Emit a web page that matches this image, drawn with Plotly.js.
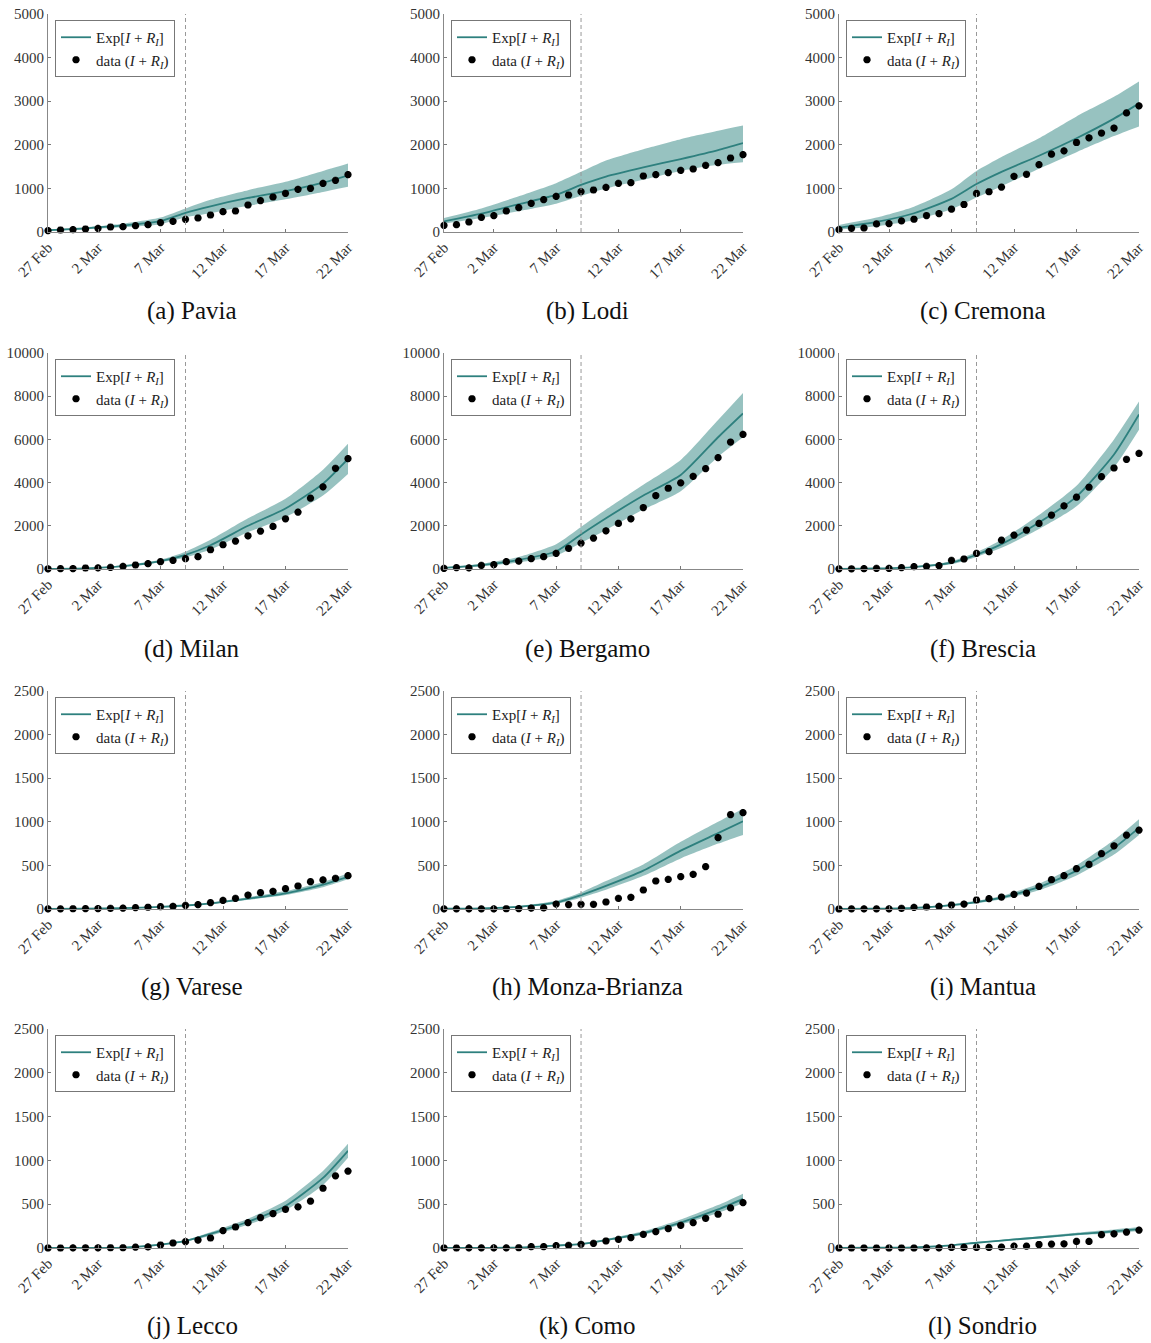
<!DOCTYPE html>
<html>
<head>
<meta charset="utf-8">
<script src="https://cdn.plot.ly/plotly-3.0.1.min.js"></script>
<style>
  html, body { margin: 0; padding: 0; background: #fff; }
  #chart { width: 1151px; height: 1343px; }
</style>
</head>
<body>
<div id="chart"></div>
<script>
// ---------- categories ----------
const dates = ['2020-02-27','2020-02-28','2020-02-29','2020-03-01','2020-03-02','2020-03-03','2020-03-04',
  '2020-03-05','2020-03-06','2020-03-07','2020-03-08','2020-03-09','2020-03-10','2020-03-11','2020-03-12',
  '2020-03-13','2020-03-14','2020-03-15','2020-03-16','2020-03-17','2020-03-18','2020-03-19','2020-03-20',
  '2020-03-21','2020-03-22'];
const modelDates = ['2020-02-27','2020-03-01','2020-03-04','2020-03-07','2020-03-09','2020-03-11',
  '2020-03-14','2020-03-17','2020-03-20','2020-03-22'];
const tickDates = ['2020-02-27','2020-03-02','2020-03-07','2020-03-12','2020-03-17','2020-03-22'];
const tickLabels = ['27 Feb','2 Mar','7 Mar','12 Mar','17 Mar','22 Mar'];
const lockdownDate = '2020-03-09';
const provinces = ['Pavia','Lodi','Cremona','Milan','Bergamo','Brescia','Varese','Monza-Brianza','Mantua','Lecco','Como','Sondrio'];
const letters = ['a','b','c','d','e','f','g','h','i','j','k','l'];
const yTickSets = [[0,1000,2000,3000,4000,5000],[0,2000,4000,6000,8000,10000],[0,500,1000,1500,2000,2500],[0,500,1000,1500,2000,2500]];
const yTickText = [['0','1000','2000','3000','4000','5000'],['0','2000','4000','6000','8000','10000'],
  ['0','500','1000','1500','2000','2500'],['0','500','1000','1500','2000','2500']];
const yMaxByRow = [5000, 10000, 2500, 2500];

// ---------- data (I + R_I) ----------
const dataPavia   = [31,46,54,69,84,115,122,145,168,214,245,290,321,390,466,482,619,719,803,887,979,1001,1116,1185,1315];
const dataLodi    = [153,168,229,336,375,482,558,657,742,818,849,925,963,1024,1116,1131,1284,1315,1361,1414,1445,1529,1590,1697,1774];
const dataCremona = [54,85,92,185,192,254,292,377,423,523,631,884,923,1030,1277,1323,1546,1784,1861,2053,2161,2269,2384,2730,2892];
const dataMilan   = [10,15,20,46,50,77,123,185,246,338,400,477,570,892,1123,1292,1538,1754,1969,2323,2631,3277,3800,4662,5108];
const dataBergamo = [31,62,50,169,200,338,369,477,569,723,954,1200,1431,1769,2108,2323,2846,3400,3738,3985,4292,4646,5154,5877,6231];
const dataBrescia = [5,10,15,31,31,62,108,123,154,400,462,723,800,1338,1569,1800,2108,2492,2923,3323,3785,4277,4677,5077,5354];
const dataVarese  = [2,2,3,4,5,8,10,16,20,27,31,42,50,73,99,122,160,187,203,233,264,313,333,352,382];
const dataMonza   = [1,1,2,2,2,3,5,11,12,57,50,54,54,80,122,134,218,321,340,371,398,486,818,1082,1105];
const dataMantua  = [0,1,2,2,2,8,19,23,31,46,57,103,118,137,168,183,260,336,382,462,511,634,725,847,905];
const dataLecco   = [0,0,1,2,2,3,3,10,12,34,57,72,91,114,198,240,290,347,393,442,469,534,682,823,877];
const dataComo    = [0,0,1,1,1,1,3,15,15,27,30,42,53,80,99,118,156,187,221,259,290,339,385,457,518];
const dataSondrio = [0,0,0,0,0,0,0,1,1,6,6,6,6,9,21,21,40,44,48,75,75,152,162,181,204];

// ---------- model Exp[I + R_I] and band (at modelDates) ----------
const meanPavia   = [40,85,150,250,440,590,780,935,1130,1300];
const hiPavia     = [60,110,190,330,540,740,960,1150,1400,1570];
const loPavia     = [25,65,110,180,340,430,600,750,920,1040];
const meanLodi    = [245,420,640,850,1080,1270,1480,1674,1880,2041];
const hiLodi      = [320,540,820,1120,1380,1640,1900,2130,2320,2440];
const loLodi      = [190,320,480,650,830,1000,1200,1400,1540,1600];
const meanCremona = [100,230,430,760,1100,1380,1750,2150,2600,2950];
const hiCremona   = [160,330,580,980,1400,1720,2150,2650,3100,3450];
const loCremona   = [55,130,270,520,790,1050,1450,1830,2200,2420];
const meanMilan   = [10,30,130,370,650,1100,2000,2800,3950,5100];
const hiMilan     = [15,45,170,430,800,1350,2350,3250,4600,5800];
const loMilan     = [5,20,100,310,530,900,1700,2400,3400,4400];
const meanBergamo = [50,180,420,820,1600,2350,3400,4350,6100,7200];
const hiBergamo   = [70,240,560,1150,1950,2750,3900,5050,6900,8150];
const loBergamo   = [35,130,300,620,1200,1800,2750,3600,5200,6100];
const meanBrescia = [10,25,90,290,660,1150,2150,3350,5300,7150];
const hiBrescia   = [15,35,120,360,770,1350,2500,3850,6000,7750];
const loBrescia   = [5,15,70,220,560,980,1850,2900,4700,6450];
const meanVarese  = [2,4,10,25,40,65,120,180,280,370];
const hiVarese    = [4,6,14,30,47,75,135,205,310,410];
const loVarese    = [1,3,7,20,33,55,105,160,250,340];
const meanMonza   = [3,8,25,75,160,265,440,670,870,1005];
const hiMonza     = [4,12,35,95,190,320,510,770,1000,1150];
const loMonza     = [2,5,18,60,130,220,380,580,750,850];
const meanMantua  = [1,3,12,45,80,130,250,440,700,930];
const hiMantua    = [3,5,17,55,95,150,290,500,790,1030];
const loMantua    = [0,1,8,38,67,112,215,385,625,850];
const meanLecco   = [1,2,5,38,80,160,300,480,800,1110];
const hiLecco     = [2,3,8,45,90,180,335,540,880,1190];
const loLecco     = [0,1,3,32,72,140,265,430,720,1030];
const meanComo    = [1,2,5,28,45,90,170,290,440,560];
const hiComo      = [2,3,8,33,53,102,190,325,490,620];
const loComo      = [0,1,3,24,38,80,150,265,400,510];
const meanSondrio = [1,3,8,30,60,85,120,158,190,215];
const hiSondrio   = [2,4,10,34,66,95,135,175,212,240];
const loSondrio   = [0,2,6,26,54,76,108,143,170,195];

const panels = [
  [dataPavia, meanPavia, hiPavia, loPavia],
  [dataLodi, meanLodi, hiLodi, loLodi],
  [dataCremona, meanCremona, hiCremona, loCremona],
  [dataMilan, meanMilan, hiMilan, loMilan],
  [dataBergamo, meanBergamo, hiBergamo, loBergamo],
  [dataBrescia, meanBrescia, hiBrescia, loBrescia],
  [dataVarese, meanVarese, hiVarese, loVarese],
  [dataMonza, meanMonza, hiMonza, loMonza],
  [dataMantua, meanMantua, hiMantua, loMantua],
  [dataLecco, meanLecco, hiLecco, loLecco],
  [dataComo, meanComo, hiComo, loComo],
  [dataSondrio, meanSondrio, hiSondrio, loSondrio]
];

// ---------- layout geometry ----------
const W = 1151, H = 1343;
const colPx = [[48,348],[444,743],[839,1139]];
const rowPx = [[14,232],[353,569],[691,909],[1029,1248]];
const captionY = [311, 649, 987, 1326];

const SERIF = 'Liberation Serif, Times New Roman, serif';
const TEAL = 'rgb(46,128,126)';
const BAND = 'rgba(47,134,130,0.5)';
const SMOOTH = 0.6;

const traces = [];
const layout = {
  width: W, height: H,
  margin: {l:0, r:0, t:0, b:0},
  paper_bgcolor: '#fff', plot_bgcolor: 'rgba(0,0,0,0)',
  showlegend: true,
  shapes: [], annotations: []
};

panels.forEach((p, k) => {
  const r = Math.floor(k / 3), c = k % 3;
  const n = k + 1;
  const xa = n === 1 ? 'x' : 'x' + n;
  const ya = n === 1 ? 'y' : 'y' + n;
  const lg = n === 1 ? 'legend' : 'legend' + n;
  const [data, mean, hi, lo] = p;

  traces.push({x: modelDates, y: hi, xaxis: xa, yaxis: ya, mode: 'lines', line: {width: 0, shape: 'spline', smoothing: SMOOTH},
    showlegend: false, hoverinfo: 'skip', legend: lg});
  traces.push({x: modelDates, y: lo, xaxis: xa, yaxis: ya, mode: 'lines', line: {width: 0, shape: 'spline', smoothing: SMOOTH},
    fill: 'tonexty', fillcolor: BAND, showlegend: false, hoverinfo: 'skip', legend: lg});
  traces.push({x: modelDates, y: mean, xaxis: xa, yaxis: ya, mode: 'lines', name: 'Exp[<i>I</i> + <i>R<sub>I</sub></i>]',
    line: {color: TEAL, width: 1.8, shape: 'spline', smoothing: SMOOTH}, legend: lg});
  traces.push({x: dates, y: data, xaxis: xa, yaxis: ya, mode: 'markers', name: 'data (<i>I</i> + <i>R<sub>I</sub></i>)',
    marker: {symbol: 'asterisk-open', size: 6, color: '#000', line: {color: '#000', width: 2.4}},
    cliponaxis: false, legend: lg});

  const [x0, x1] = colPx[c];
  const [y0, y1] = rowPx[r];
  const axKey = n === 1 ? '' : String(n);
  layout['xaxis' + axKey] = {
    domain: [x0 / W, x1 / W], anchor: ya, type: 'date',
    range: [dates[0], dates[dates.length - 1]],
    tickmode: 'array', tickvals: tickDates, ticktext: tickLabels, tickangle: -45,
    ticks: 'inside', ticklen: 3, tickcolor: '#777', showline: true, linecolor: '#888', linewidth: 1,
    showgrid: false, zeroline: false, fixedrange: true,
    tickfont: {family: SERIF, size: 15, color: '#333'}
  };
  layout['yaxis' + axKey] = {
    domain: [1 - y1 / H, 1 - y0 / H], anchor: xa,
    range: [0, yMaxByRow[r]], tickmode: 'array', tickvals: yTickSets[r], ticktext: yTickText[r],
    ticks: 'inside', ticklen: 3, tickcolor: '#777', showline: true, linecolor: '#888', linewidth: 1,
    showgrid: false, zeroline: false, fixedrange: true,
    tickfont: {family: SERIF, size: 15, color: '#333'}
  };
  layout[lg] = {
    x: (x0 + 7) / W, y: 1 - (y0 + 6) / H, xanchor: 'left', yanchor: 'top',
    bgcolor: '#fff', bordercolor: '#777', borderwidth: 1,
    font: {family: SERIF, size: 15, color: '#222'},
    traceorder: 'normal', tracegroupgap: 0, itemwidth: 30
  };
  layout.shapes.push({
    type: 'line', xref: xa, yref: ya + ' domain', x0: lockdownDate, x1: lockdownDate, y0: 0, y1: 1,
    line: {color: '#999', width: 1, dash: '4px,3px'}
  });
  layout.annotations.push({
    xref: 'paper', yref: 'paper', x: ((x0 + x1) / 2 - 6) / W, y: 1 - captionY[r] / H,
    xanchor: 'center', yanchor: 'middle', showarrow: false,
    text: '(' + letters[k] + ') ' + provinces[k],
    font: {family: SERIF, size: 25, color: '#111'}
  });
});

Plotly.newPlot('chart', traces, layout, {staticPlot: true, displayModeBar: false});
</script>
</body>
</html>
